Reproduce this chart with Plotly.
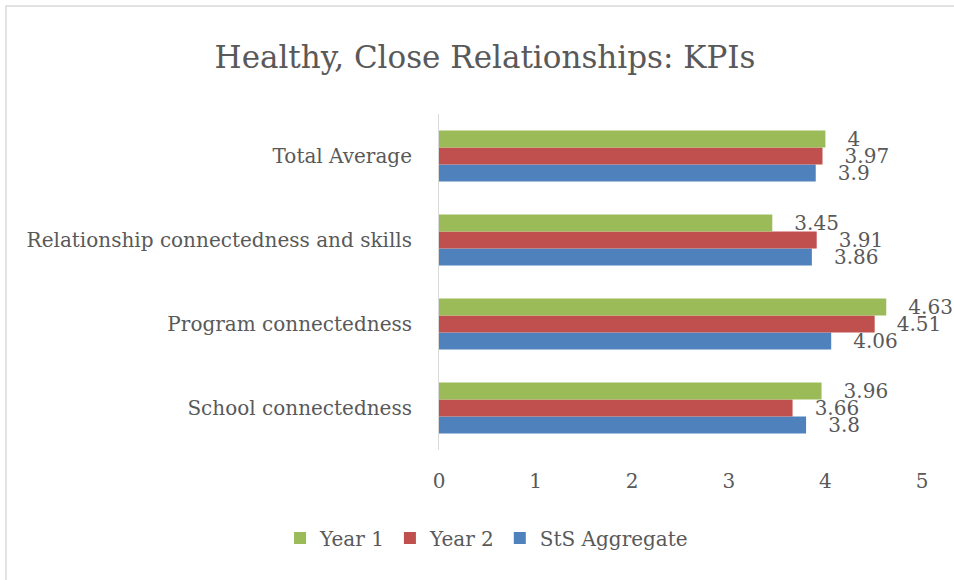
import plotly.graph_objects as go

categories = ["School connectedness", "Program connectedness",
              "Relationship connectedness and skills", "Total Average"]
year1 = [3.96, 4.63, 3.45, 4]
year2 = [3.66, 4.51, 3.91, 3.97]
sts_aggregate = [3.8, 4.06, 3.86, 3.9]

GREEN = "#9BBB59"
RED = "#C0504D"
BLUE = "#4F81BD"
TEXT = "#595959"
FONT = "DejaVu Serif"

W, H = 954, 580
ML, MR, MT, MB = 439, 32, 114, 130

fig = go.Figure()
# plotly puts the first trace lowest in a group, so add them bottom-up
for name, vals, col, rank in [("StS Aggregate", sts_aggregate, BLUE, 3),
                              ("Year 2", year2, RED, 2),
                              ("Year 1", year1, GREEN, 1)]:
    fig.add_trace(go.Bar(
        y=categories, x=vals, name=name, orientation="h",
        marker=dict(color=col, line=dict(width=0)),
        texttemplate="\u00a0\u00a0\u00a0%{x}", textposition="outside",
        constraintext="none", cliponaxis=False,
        textfont=dict(family=FONT, size=20, color=TEXT),
        legendrank=rank,
    ))

fig.update_layout(
    width=W, height=H,
    margin=dict(l=ML, r=MR, t=MT, b=MB),
    paper_bgcolor="white", plot_bgcolor="white",
    font=dict(family=FONT, color=TEXT, size=20),
    barmode="group", bargap=0.39, bargroupgap=0,
    title=dict(text="Healthy, Close Relationships: KPIs",
               font=dict(family=FONT, size=31, color=TEXT),
               x=485 / W, xref="container", xanchor="center",
               y=1 - 57 / H, yref="container", yanchor="middle"),
    legend=dict(orientation="h", x=0.51, xref="container", xanchor="center",
                y=1 - 538 / H, yref="container", yanchor="middle",
                font=dict(family=FONT, size=20, color=TEXT)),
    showlegend=True,
)
fig.update_xaxes(range=[0, 5], dtick=1, showgrid=False, zeroline=False,
                 showline=False, ticklabelstandoff=17,
                 tickfont=dict(family=FONT, size=20, color=TEXT))
fig.update_yaxes(showgrid=False, zeroline=False, showline=True,
                 linecolor="#D9D9D9", linewidth=1, ticklabelstandoff=22,
                 tickfont=dict(family=FONT, size=20, color=TEXT))

# light chart border (only top/left edges visible in the picture)
pw, ph = W - ML - MR, H - MT - MB
fig.add_shape(type="rect", xref="paper", yref="paper",
              x0=-(ML - 6) / pw, x1=(W - ML + 20) / pw,
              y0=-(MB + 20) / ph, y1=1 + (MT - 6) / ph,
              line=dict(color="#D9D9D9", width=1.5), layer="below")

fig.write_html("out.html", config={"displayModeBar": False},
               post_script="document.body.style.margin='0';"
                           "document.body.style.overflow='hidden';")
